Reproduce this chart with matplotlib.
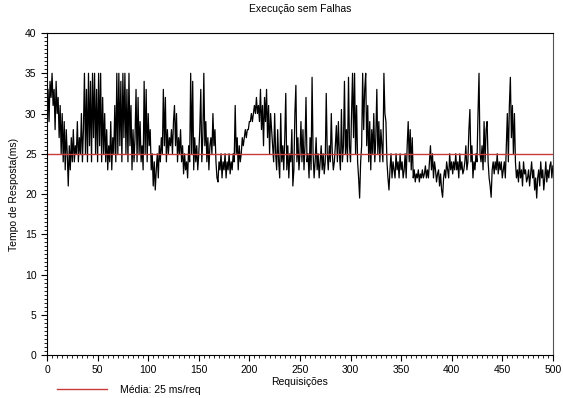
import numpy as np
import matplotlib
matplotlib.use("Agg")
import matplotlib.pyplot as plt
from matplotlib.ticker import MultipleLocator

plt.rcParams["font.family"] = ["Liberation Sans", "DejaVu Sans"]

# tempo de resposta por requisição (ms)
tempo = [
    33, 29, 34, 32, 35, 31, 33, 28, 34, 30, 32, 27, 31, 25, 30, 24, 29, 23, 28, 25, 21, 26, 23, 27, 24,
    28, 24, 26, 25, 29, 24, 27, 25, 30, 24, 28, 35, 25, 33, 24, 35, 26, 34, 24, 35, 27, 35, 25, 33, 24,
    35, 26, 35, 24, 32, 25, 30, 24, 28, 23, 26, 24, 29, 23, 27, 25, 31, 24, 35, 25, 35, 26, 34, 24, 35,
    27, 35, 25, 33, 24, 35, 26, 31, 23, 28, 24, 27, 33, 24, 32, 25, 29, 24, 26, 23, 34, 25, 33, 24, 30,
    26, 28, 23, 25, 21, 24, 20.5, 23, 25, 22, 26, 24, 27, 25, 33, 26, 32, 24, 28, 25, 27, 26, 28, 25, 29,
    31, 26, 30, 24, 27, 25, 28, 24, 26, 22.5, 25, 23, 24, 22, 26, 24, 35, 25, 34, 23, 27, 24, 26, 23, 25,
    28, 33, 24, 27, 35, 26, 29, 24, 27, 23, 26, 27, 25, 30, 26, 28, 24, 22, 21.5, 24, 23, 25, 22, 24, 23,
    25, 22, 24, 23, 25, 22.5, 24, 23, 25, 24, 31, 25, 27, 23, 26, 24, 25, 27, 26, 27, 28, 27, 28, 28, 29,
    29, 30, 29, 30, 31, 30, 32, 30, 31, 29, 33, 28, 31, 26, 32, 29, 33, 27, 31, 25, 30, 28, 26, 24, 30,
    25, 23, 28, 24, 22, 30, 24, 26, 23, 27, 32.5, 23, 26, 22, 25, 24, 28, 21, 23, 30, 33.5, 24, 27, 23, 25,
    29, 24, 28, 23, 26, 32, 24, 25, 22, 27, 23, 34.5, 25, 22, 24, 27, 23, 25, 22, 24, 26, 23, 25, 22.5, 24,
    32.5, 25, 23, 26, 24, 30, 25, 23, 24, 26, 28.5, 24, 29, 25, 23, 30.5, 24, 26, 34, 25, 28, 24, 34.5, 26, 24,
    30, 35, 27, 35, 25, 31, 24, 22, 19.5, 24, 26, 35, 28, 33, 35, 26, 31, 24, 29, 23, 28, 25, 30, 24, 27,
    33, 25, 29, 24, 28, 26, 24, 35, 30, 29, 24, 22, 20.5, 23, 25, 22, 24, 23, 22, 25, 23, 24, 22, 25, 23,
    24, 22, 23, 25, 22, 26, 29, 24, 28, 23, 27, 22, 23, 21.5, 22.5, 22, 23, 21.5, 22.5, 22, 23, 22, 22.5, 23.5, 22,
    23, 22, 24, 26, 23, 25, 22, 24, 23, 21.5, 22.5, 23, 21, 22.5, 20.5, 19.6, 22, 23, 22, 24, 23, 22, 25, 23, 24,
    22.5, 24, 23, 25, 23, 24, 22, 25, 23, 24, 22.5, 23, 24, 26, 23, 24, 28, 30.5, 24, 26, 22, 24, 23, 25, 24,
    30, 35, 25, 24, 26, 23, 29, 24, 28, 29, 24, 22, 21, 19.6, 23, 24, 22.5, 24, 23, 25, 22.5, 24, 23, 24, 22,
    23, 24, 22, 26, 30, 24, 31, 34.5, 27, 31, 25, 30, 24, 22, 23, 21.5, 24, 22, 23, 21, 24, 22.5, 23, 21.5, 22,
    23, 21, 22.5, 24, 22, 23, 20.5, 22, 19.5, 22, 23, 21, 24, 22, 23, 20.5, 22, 24, 21.5, 23, 22, 23.5, 24, 22, 23.5,
]
media = 25
requisicoes = np.arange(1, len(tempo) + 1)

fig = plt.figure(figsize=(5.63, 3.98), dpi=100)
ax = fig.add_axes([0.0835, 0.108, 0.8985, 0.809])

ax.plot(requisicoes, tempo, color="black", linewidth=0.9)
ax.axhline(media, color="#c83c3c", linewidth=1.0, label="Média: 25 ms/req")

ax.set_xlim(0, 500)
ax.set_ylim(0, 40)
ax.xaxis.set_major_locator(MultipleLocator(50))
ax.xaxis.set_minor_locator(MultipleLocator(5))
ax.yaxis.set_major_locator(MultipleLocator(5))
ax.yaxis.set_minor_locator(MultipleLocator(0.5))
ax.tick_params(which="major", length=4, width=0.8, labelsize=7.5, colors="black")
ax.tick_params(which="minor", length=2, width=0.6)
for s in ax.spines.values():
    s.set_linewidth(0.8)
ax.spines["right"].set_color("#555555")

ax.set_title("Execução sem Falhas", fontsize=7.5, pad=15)
ax.set_xlabel("Requisições", fontsize=7.5, labelpad=1)
ax.set_ylabel("Tempo de Resposta(ms)", fontsize=7.5, labelpad=4)

fig.legend(loc="lower left", bbox_to_anchor=(0.085, -0.015), frameon=False,
           fontsize=7.5, handlelength=4.8, handletextpad=1.2)

fig.savefig("out.png", dpi=100)
plt.close(fig)
